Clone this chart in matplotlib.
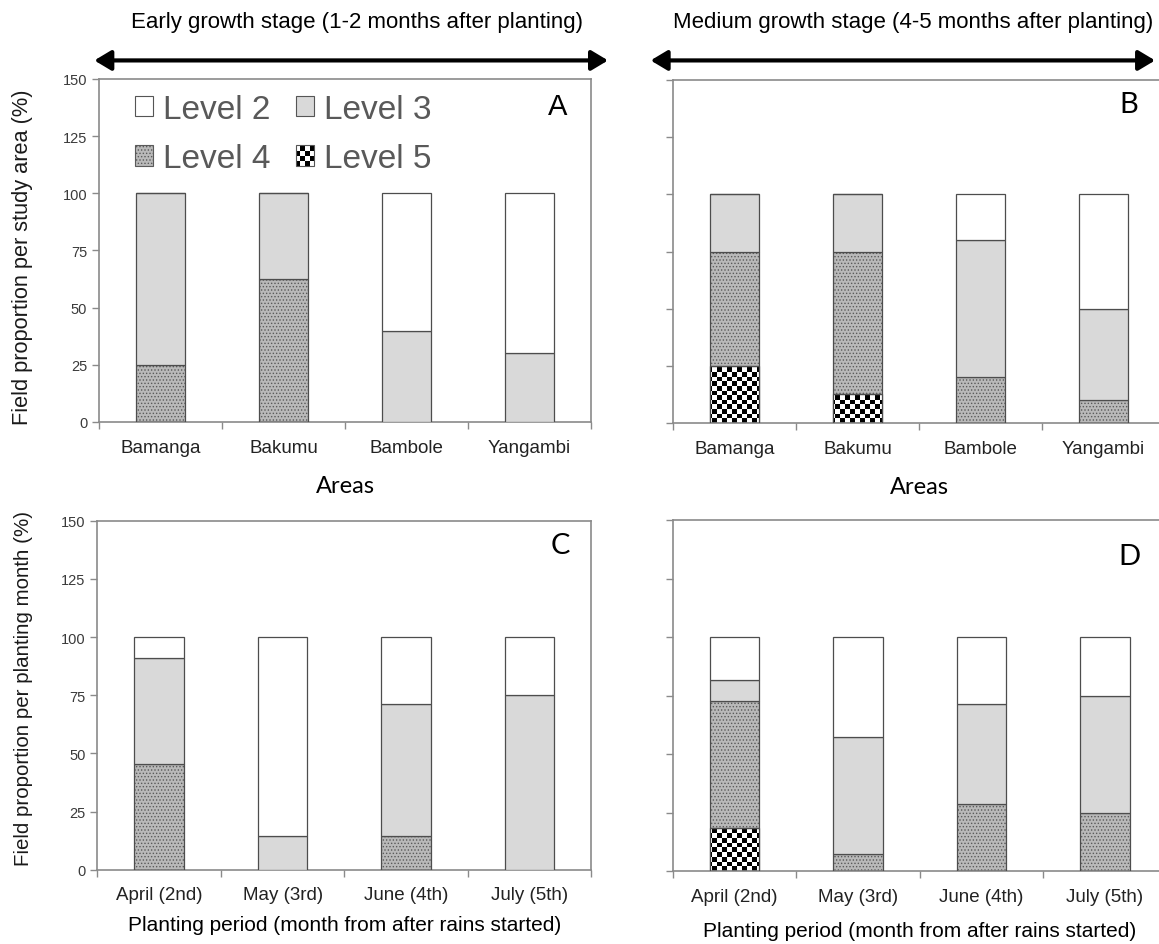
import matplotlib
matplotlib.use("Agg")
import matplotlib.pyplot as plt
from matplotlib import font_manager
from matplotlib.patches import Patch, Rectangle, FancyArrowPatch
from matplotlib.legend_handler import HandlerBase
import numpy as np

# ---- data (percent of fields per level) ----
areas = ["Bamanga", "Bakumu", "Bambole", "Yangambi"]
months = ["April (2nd)", "May (3rd)", "June (4th)", "July (5th)"]
levels = ["Level 2", "Level 3", "Level 4", "Level 5"]

# A: early growth stage, per area
a_l5 = [0, 0, 0, 0]
a_l4 = [25, 62.5, 0, 0]
a_l3 = [75, 37.5, 40, 30]
a_l2 = [0, 0, 60, 70]

# B: medium growth stage, per area
b_l5 = [25, 12.5, 0, 0]
b_l4 = [50, 62.5, 20, 10]
b_l3 = [25, 25, 60, 40]
b_l2 = [0, 0, 20, 50]

# C: early growth stage, per planting month
c_l5 = [0, 0, 0, 0]
c_l4 = [45.5, 0, 14.3, 0]
c_l3 = [45.5, 14.3, 57.1, 75]
c_l2 = [9.1, 85.7, 28.6, 25]

# D: medium growth stage, per planting month
d_l5 = [18.2, 0, 0, 0]
d_l4 = [54.5, 7.1, 28.6, 25]
d_l3 = [9.1, 50, 42.9, 50]
d_l2 = [18.2, 42.9, 28.6, 25]

yticks = [0, 25, 50, 75, 100, 125, 150]

def pick(names):
    avail = {f.name for f in font_manager.fontManager.ttflist}
    for n in names:
        if n in avail:
            return n
    return "DejaVu Sans"

ARIAL = pick(["Liberation Sans", "Arial"])
NARROW = pick(["Liberation Sans Narrow", "Liberation Sans"])
CALIB = pick(["Lato", "Open Sans"])

plt.rcParams["font.family"] = ARIAL
plt.rcParams["hatch.linewidth"] = 0.6

EDGE = "#4d4d4d"
SPINE = "#8a8a8a"
L4_FACE = "#b9b9b9"
L4_DOTS = "#5a5a5a"
L3_FACE = "#d9d9d9"

checker = (np.indices((75, 100)).sum(axis=0) % 2).astype(float)


class CheckerHandler(HandlerBase):
    # draws a small black/white checkerboard square as legend handle
    def create_artists(self, legend, orig_handle, xdescent, ydescent,
                       width, height, fontsize, trans):
        n = 4
        cw, ch = width / n, height / n
        arts = []
        for i in range(n):
            for j in range(n):
                c = "black" if (i + j) % 2 == 0 else "white"
                arts.append(Rectangle((-xdescent + i * cw, -ydescent + j * ch),
                                      cw, ch, facecolor=c, lw=0,
                                      transform=trans))
        arts.append(Rectangle((-xdescent, -ydescent), width, height,
                              fill=False, edgecolor="#555555", lw=0.8,
                              transform=trans))
        return arts


def panel(ax, l5, l4, l3, l2, cats, letter, letter_font, lpos, show_ylab):
    x = np.arange(len(cats))
    w = 0.4
    l5 = np.array(l5); l4 = np.array(l4); l3 = np.array(l3); l2 = np.array(l2)
    # level 5 (checkerboard drawn as clipped image)
    bars5 = ax.bar(x, l5, w, color="white", edgecolor=EDGE, lw=0.9, zorder=2)
    for b, v in zip(bars5, l5):
        if v > 0:
            im = ax.imshow(checker, cmap="gray", extent=[0, 1, 0, 1],
                           transform=ax.transAxes, interpolation="nearest",
                           aspect="auto", zorder=2.5)
            im.set_clip_path(b)
    ax.bar(x, l5, w, fill=False, edgecolor=EDGE, lw=0.9, zorder=3)
    # level 4 dotted grey
    ax.bar(x, l4, w, bottom=l5, color=L4_FACE, edgecolor=L4_DOTS,
           hatch=".....", lw=0, zorder=2)
    ax.bar(x, l4, w, bottom=l5, fill=False, edgecolor=EDGE, lw=0.9, zorder=3)
    # level 3 light grey
    ax.bar(x, l3, w, bottom=l5 + l4, color=L3_FACE, edgecolor=EDGE,
           lw=0.9, zorder=3)
    # level 2 white
    ax.bar(x, l2, w, bottom=l5 + l4 + l3, color="white", edgecolor=EDGE,
           lw=0.9, zorder=3)

    ax.set_xlim(-0.5, len(cats) - 0.5)
    ax.set_ylim(0, 150)
    ax.set_yticks(yticks)
    ax.set_xticks(np.arange(len(cats) + 1) - 0.5)
    ax.set_xticklabels([])
    ax.set_xticks(x, minor=True)
    ax.set_xticklabels(cats, minor=True, fontsize=13.5, color="#222222")
    ax.tick_params(axis="x", which="minor", length=0, pad=12)
    ax.tick_params(axis="both", which="major", direction="out", length=5,
                   color=SPINE, width=1)
    if show_ylab:
        ax.set_yticklabels([str(t) for t in yticks], fontsize=10.5,
                           color="#3a3a3a")
    else:
        ax.set_yticklabels([])
    for s in ax.spines.values():
        s.set_color(SPINE)
        s.set_linewidth(1.2)
    ax.text(lpos[0], lpos[1], letter, transform=ax.transAxes, ha="center",
            va="center", fontsize=21, family=letter_font)


fig = plt.figure(figsize=(11.59, 9.45), dpi=100)
axA = fig.add_axes([0.0854, 0.5524, 0.4245, 0.3630])
axB = fig.add_axes([0.5807, 0.5513, 0.4245, 0.3630])
axC = fig.add_axes([0.0840, 0.0786, 0.4262, 0.3693])
axD = fig.add_axes([0.5804, 0.0772, 0.4262, 0.3714])

panel(axA, a_l5, a_l4, a_l3, a_l2, areas, "A", ARIAL, (0.933, 0.92), True)
panel(axB, b_l5, b_l4, b_l3, b_l2, areas, "B", CALIB, (0.926, 0.93), False)
panel(axC, c_l5, c_l4, c_l3, c_l2, months, "C", CALIB, (0.938, 0.93), True)
panel(axD, d_l5, d_l4, d_l3, d_l2, months, "D", CALIB, (0.925, 0.897), False)
axB.spines["right"].set_visible(False)
axD.spines["right"].set_visible(False)

axA.set_ylabel("Field proportion per study area (%)", fontsize=15.7,
               labelpad=14, color="#1a1a1a")
axA.yaxis.set_label_coords(-0.135, 0.484)
axC.set_ylabel("Field proportion per planting month (%)", fontsize=14.8,
               labelpad=14, color="#1a1a1a")
axC.yaxis.set_label_coords(-0.131, 0.523)
axA.set_xlabel("Areas", fontsize=17, family=CALIB, labelpad=14)
axB.set_xlabel("Areas", fontsize=17, family=CALIB, labelpad=14)
axC.set_xlabel("Planting period (month from after rains started)", fontsize=15,
               labelpad=8)
axD.set_xlabel("Planting period (month from after rains started)", fontsize=15,
               labelpad=12)

# legend in panel A (column-wise order gives rows L2/L3 and L4/L5)
h2 = Patch(facecolor="white", edgecolor="#555555", lw=0.8)
h3 = Patch(facecolor=L3_FACE, edgecolor="#555555", lw=0.8)
h4 = Patch(facecolor=L4_FACE, edgecolor=L4_DOTS, hatch=".....", lw=0.8)
h5 = Patch(facecolor="white", edgecolor="black")
axA.legend([h2, h4, h3, h5], [levels[0], levels[2], levels[1], levels[3]],
           handler_map={h5: CheckerHandler()},
           loc="upper left", ncol=2, frameon=False,
           fontsize=24, labelcolor="#595959", handlelength=0.55,
           handleheight=0.55, handletextpad=0.3, columnspacing=0.75,
           labelspacing=0.55, borderaxespad=0.0, bbox_to_anchor=(0.046, 0.995))

# growth stage headers with double arrows
fig.text(0.308, 0.976, "Early growth stage (1-2 months after planting)",
         ha="center", va="center", fontsize=16, family=NARROW)
fig.text(0.788, 0.976, "Medium growth stage (4-5 months after planting)",
         ha="center", va="center", fontsize=16, family=NARROW)
for x0, x1 in [(0.079, 0.527), (0.559, 0.999)]:
    fig.add_artist(FancyArrowPatch(
        (x0, 0.935), (x1, 0.935), transform=fig.transFigure,
        arrowstyle="<|-|>,head_length=10,head_width=6", mutation_scale=1,
        lw=3, color="black"))

fig.savefig("out.png", dpi=100)
